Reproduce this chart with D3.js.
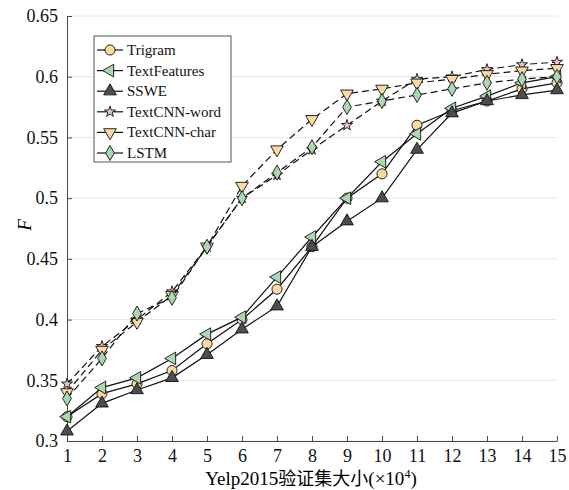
<html>
  <head>
    <meta charset="UTF-8">
    <style>
      body { margin: 0; background: white; }
      text { font-family: 'Liberation Serif', 'Noto Sans CJK SC', serif; }
    </style>
  </head>
  <body>
    <script src="https://d3js.org/d3.v7.min.js"></script>
    <svg id="chart" width="569" height="490"></svg>
    <script>
      var sizes = [1, 2, 3, 4, 5, 6, 7, 8, 9, 10, 11, 12, 13, 14, 15];
      var yTicks = [0.3, 0.35, 0.4, 0.45, 0.5, 0.55, 0.6, 0.65];
      var names = ["Trigram", "TextFeatures", "SSWE", "TextCNN-word", "TextCNN-char", "LSTM"];

      var trigram      = [0.320, 0.339, 0.347, 0.358, 0.380, 0.400, 0.425, 0.460, 0.500, 0.520, 0.560, 0.572, 0.580, 0.590, 0.595];
      var textFeatures = [0.320, 0.344, 0.352, 0.368, 0.388, 0.402, 0.435, 0.468, 0.500, 0.530, 0.553, 0.574, 0.584, 0.595, 0.600];
      var sswe         = [0.308, 0.331, 0.342, 0.352, 0.371, 0.392, 0.411, 0.460, 0.481, 0.500, 0.540, 0.570, 0.580, 0.585, 0.589];
      var cnnWord      = [0.347, 0.378, 0.400, 0.423, 0.460, 0.500, 0.519, 0.540, 0.560, 0.580, 0.598, 0.600, 0.606, 0.610, 0.612];
      var cnnChar      = [0.340, 0.375, 0.398, 0.420, 0.460, 0.510, 0.540, 0.565, 0.586, 0.590, 0.595, 0.598, 0.602, 0.605, 0.607];
      var lstm         = [0.335, 0.368, 0.405, 0.418, 0.460, 0.500, 0.521, 0.542, 0.575, 0.580, 0.585, 0.590, 0.595, 0.598, 0.600];

      var allValues = [trigram, textFeatures, sswe, cnnWord, cnnChar, lstm];

      // marker style per series
      var styles = [
        {sym: d3.symbolCircle,   size: 80, rot: 0,   fill: "#fdd9a1", dash: null},
        {sym: d3.symbolTriangle, size: 70, rot: -90, fill: "#a9d8b2", dash: null},
        {sym: d3.symbolTriangle, size: 70, rot: 0,   fill: "#4d4d4d", dash: null},
        {sym: d3.symbolStar,     size: 38, rot: 0,   fill: "#f2c4c4", dash: "7,4"},
        {sym: d3.symbolTriangle, size: 70, rot: 180, fill: "#fdd9a1", dash: "7,4"},
        {sym: d3.symbolDiamond,  size: 65, rot: 0,   fill: "#a9d8b2", dash: "7,4"}
      ];

      var svg = d3.select("#chart"),
          margin = {top: 16, right: 12, bottom: 49, left: 67};

      var x = d3.scaleLinear().domain([1, 15]).range([margin.left, 557]);
      var y = d3.scaleLinear().domain([0.3, 0.65]).range([441, margin.top]);

      /* grid */
      svg.append("g").selectAll("line")
        .data(yTicks)
        .enter().append("line")
        .attr("x1", x(1)).attr("x2", x(15))
        .attr("y1", function(d) { return y(d); })
        .attr("y2", function(d) { return y(d); })
        .attr("stroke", "#e8e8e8")
        .attr("stroke-width", 1);

      /* axes */
      var fmt = function(d) { return d3.format(".2f")(d).replace(/0$/, ""); };
      var gy = svg.append("g")
        .attr("transform", "translate(" + x(1) + ",0)")
        .call(d3.axisLeft(y).tickValues(yTicks).tickFormat(fmt).tickSizeInner(-5).tickSizeOuter(0).tickPadding(9));
      var gx = svg.append("g")
        .attr("transform", "translate(0," + y(0.3) + ")")
        .call(d3.axisBottom(x).tickValues(sizes).tickFormat(d3.format("d")).tickSizeInner(-5).tickSizeOuter(0).tickPadding(8));
      [gx, gy].forEach(function(g) {
        g.select(".domain").attr("stroke", "#4a4a4a");
        g.selectAll(".tick line").attr("stroke", "#4a4a4a");
        g.selectAll("text").attr("fill", "#111").style("font-size", "18px")
          .style("font-family", "'Liberation Serif', serif");
      });

      svg.append("text")
        .attr("x", 37).attr("y", 231)
        .attr("text-anchor", "middle")
        .attr("transform", "rotate(-90,31,231)")
        .style("font-size", "19px").style("font-style", "italic")
        .text("F");

      var xl = svg.append("text")
        .attr("x", 311).attr("y", 485)
        .attr("text-anchor", "middle")
        .style("font-size", "19px");
      xl.append("tspan").text("Yelp2015");
      xl.append("tspan").style("font-family", "'Noto Sans CJK SC', sans-serif").style("font-size", "18px").text("验证集大小");
      xl.append("tspan").text("(×10");
      xl.append("tspan").attr("dy", -7).style("font-size", "12px").text("4");
      xl.append("tspan").attr("dy", 7).text(")");

      /* series */
      var line = d3.line()
        .x(function(d, i) { return x(sizes[i]); })
        .y(function(d) { return y(d); });

      allValues.forEach(function(vals, k) {
        var s = styles[k];
        var g = svg.append("g");
        g.append("path")
          .datum(vals)
          .attr("fill", "none")
          .attr("stroke", "#111")
          .attr("stroke-width", 1.2)
          .attr("stroke-dasharray", s.dash)
          .attr("d", line);
        g.selectAll("path.m")
          .data(vals)
          .enter().append("path")
          .attr("class", "m")
          .attr("d", d3.symbol().type(s.sym).size(s.size))
          .attr("transform", function(d, i) {
            return "translate(" + x(sizes[i]) + "," + y(d) + ") rotate(" + s.rot + ")";
          })
          .attr("fill", s.fill)
          .attr("stroke", "#111")
          .attr("stroke-width", 0.9);
      });

      /* legend */
      var lg = svg.append("g");
      lg.append("rect")
        .attr("x", 94).attr("y", 36).attr("width", 137).attr("height", 126)
        .attr("fill", "white").attr("stroke", "#555").attr("stroke-width", 1);
      names.forEach(function(n, k) {
        var s = styles[k], ly = 50 + k * 20.6;
        lg.append("line")
          .attr("x1", 97).attr("x2", 123).attr("y1", ly).attr("y2", ly)
          .attr("stroke", "#111").attr("stroke-width", 1.2);
        lg.append("path")
          .attr("d", d3.symbol().type(s.sym).size(s.size))
          .attr("transform", "translate(110," + ly + ") rotate(" + s.rot + ")")
          .attr("fill", s.fill).attr("stroke", "#111").attr("stroke-width", 0.9);
        lg.append("text")
          .attr("x", 127).attr("y", ly + 5)
          .style("font-size", "15px").attr("fill", "#111")
          .text(n);
      });
    </script>
  </body>
</html>
